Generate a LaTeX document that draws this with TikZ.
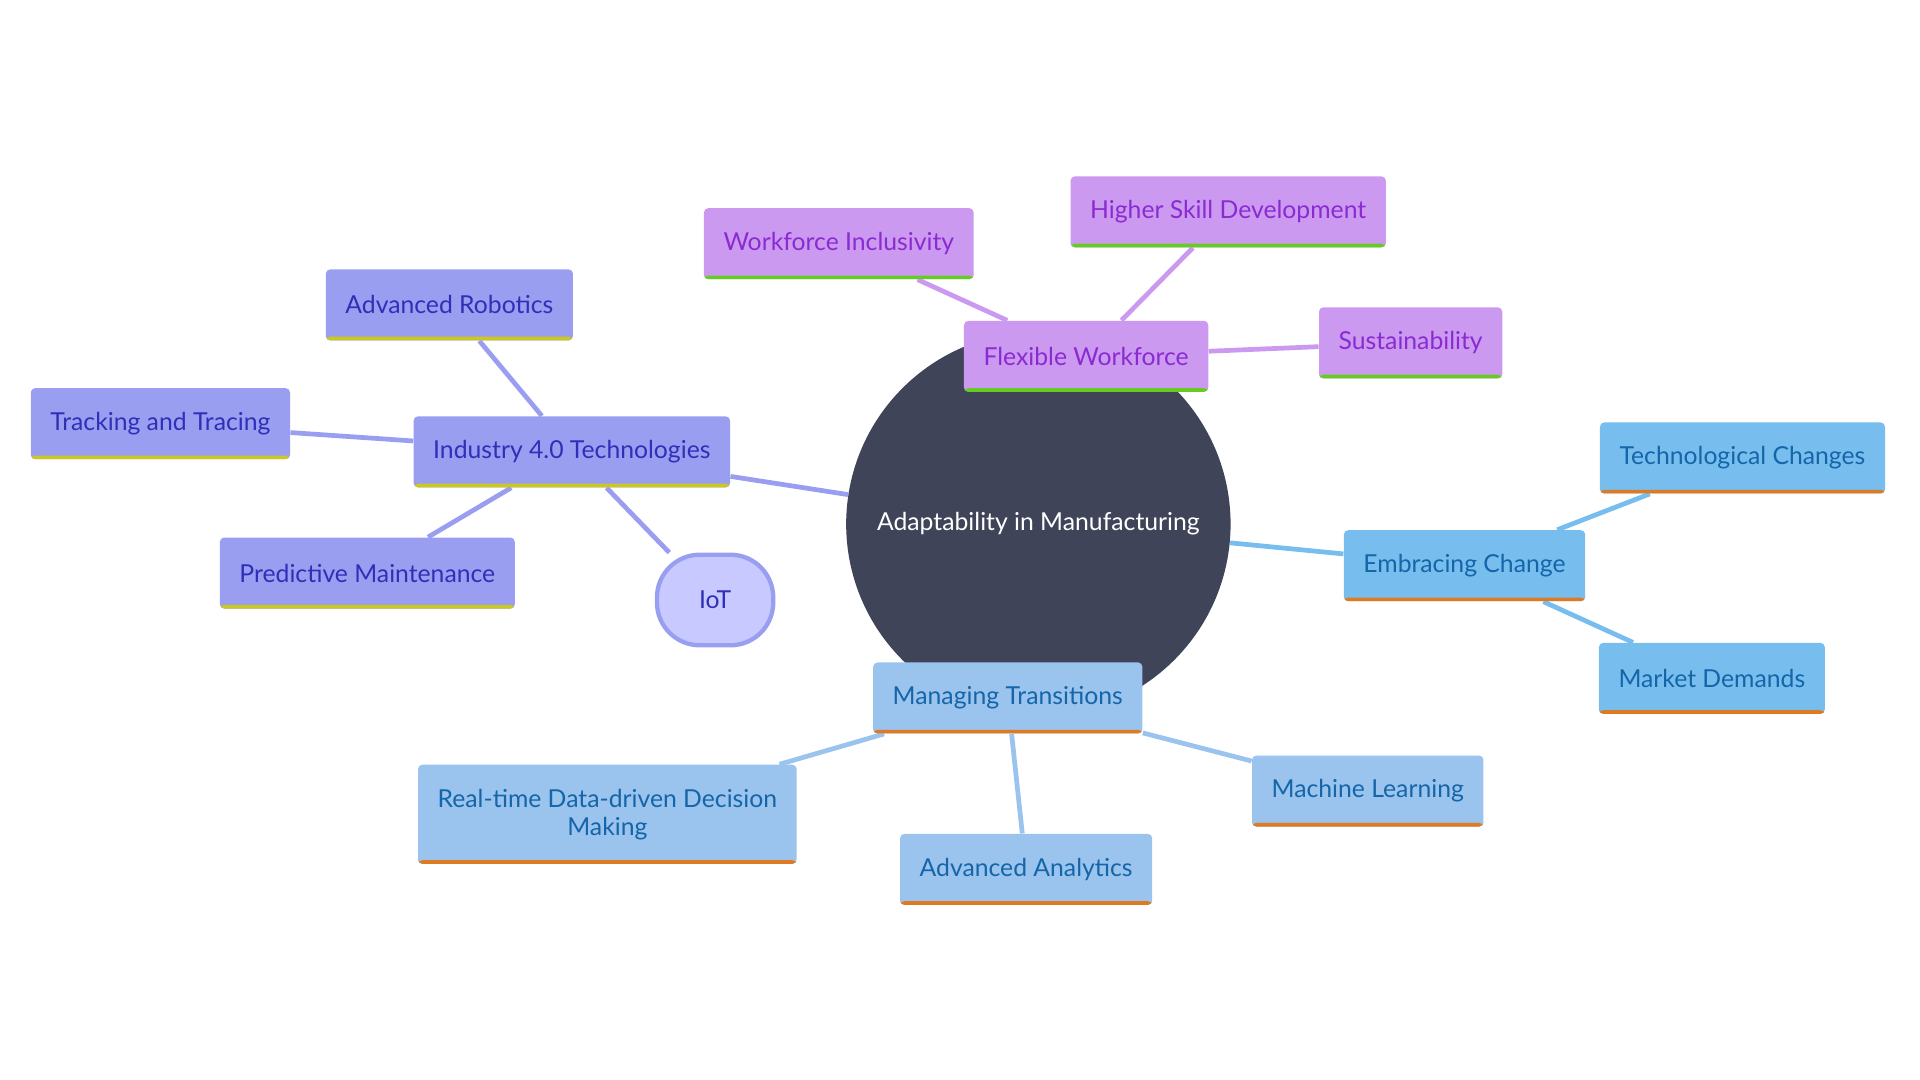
\documentclass[tikz,border=0pt]{standalone}
\usepackage{fontspec}
\setmainfont{Lato}
\usetikzlibrary{backgrounds}
\definecolor{hub}{HTML}{404459}
\definecolor{pfill}{HTML}{CC99F0}
\definecolor{ptext}{HTML}{8A2BD2}
\definecolor{pbar}{HTML}{66CC22}
\definecolor{ifill}{HTML}{9A9EF0}
\definecolor{itext}{HTML}{2F2FB8}
\definecolor{ibar}{HTML}{CCC822}
\definecolor{efill}{HTML}{77BDEE}
\definecolor{etext}{HTML}{1466A8}
\definecolor{mfill}{HTML}{9AC3EE}
\definecolor{obar}{HTML}{DD7A22}
\definecolor{iotfill}{HTML}{C8CAFF}
\tikzset{
    box/.style={rounded corners=2pt, minimum height=1.16cm, inner xsep=0.32cm,
        font=\fontsize{11.5}{13}\selectfont, align=center,
        path picture={\fill[#1] ([yshift=0.06cm]path picture bounding box.south west)
            rectangle (path picture bounding box.south east);}},
    pbox/.style={box=pbar, fill=pfill, text=ptext},
    ibox/.style={box=ibar, fill=ifill, text=itext},
    ebox/.style={box=obar, fill=efill, text=etext},
    mbox/.style={box=obar, fill=mfill, text=etext},
    link/.style={line width=2.2pt, #1},
}
\begin{document}
\begin{tikzpicture}[x=0.02cm, y=-0.02cm]
    \useasboundingbox (0,0) rectangle (1568,882);
    \node[circle, fill=hub, minimum size=6.28cm, text=white, font=\fontsize{11.5}{13}\selectfont] (c) at (848,428) {Adaptability in Manufacturing};

    \node[pbox] (f) at (887,291) {Flexible Workforce};
    \node[pbox] (f1) at (685,199) {Workforce Inclusivity};
    \node[pbox] (f2) at (1003,173) {Higher Skill Development};
    \node[pbox] (f3) at (1152,280) {Sustainability};

    \node[ibox] (i) at (467,369) {Industry 4.0 Technologies};
    \node[ibox] (i1) at (367,249) {Advanced Robotics};
    \node[ibox] (i2) at (131,346) {Tracking and Tracing};
    \node[ibox] (i3) at (300,468) {Predictive Maintenance};
    \node[rounded corners=0.7cm, fill=iotfill, draw=ifill, line width=2pt, minimum width=1.9cm, minimum height=1.48cm,
        text=itext, font=\fontsize{11.5}{13}\selectfont] (i4) at (584,490) {IoT};

    \node[ebox] (e) at (1196,462) {Embracing Change};
    \node[ebox] (e1) at (1423,374) {Technological Changes};
    \node[ebox] (e2) at (1398,554) {Market Demands};

    \node[mbox] (m) at (823,570) {Managing Transitions};
    \node[mbox, minimum height=1.62cm] (m1) at (496,665) {Real-time Data-driven Decision\\Making};
    \node[mbox] (m2) at (838,710) {Advanced Analytics};
    \node[mbox] (m3) at (1117,646) {Machine Learning};

    \begin{scope}[on background layer]
        \draw[link=pfill] (c) -- (f) (f) -- (f1) (f) -- (f2) (f) -- (f3);
        \draw[link=ifill] (c) -- (i) (i) -- (i1) (i) -- (i2) (i) -- (i3) (i) -- (i4);
        \draw[link=efill] (c) -- (e) (e) -- (e1) (e) -- (e2);
        \draw[link=mfill] (c) -- (m) (m) -- (m1) (m) -- (m2) (m) -- (m3);
    \end{scope}
\end{tikzpicture}
\end{document}
